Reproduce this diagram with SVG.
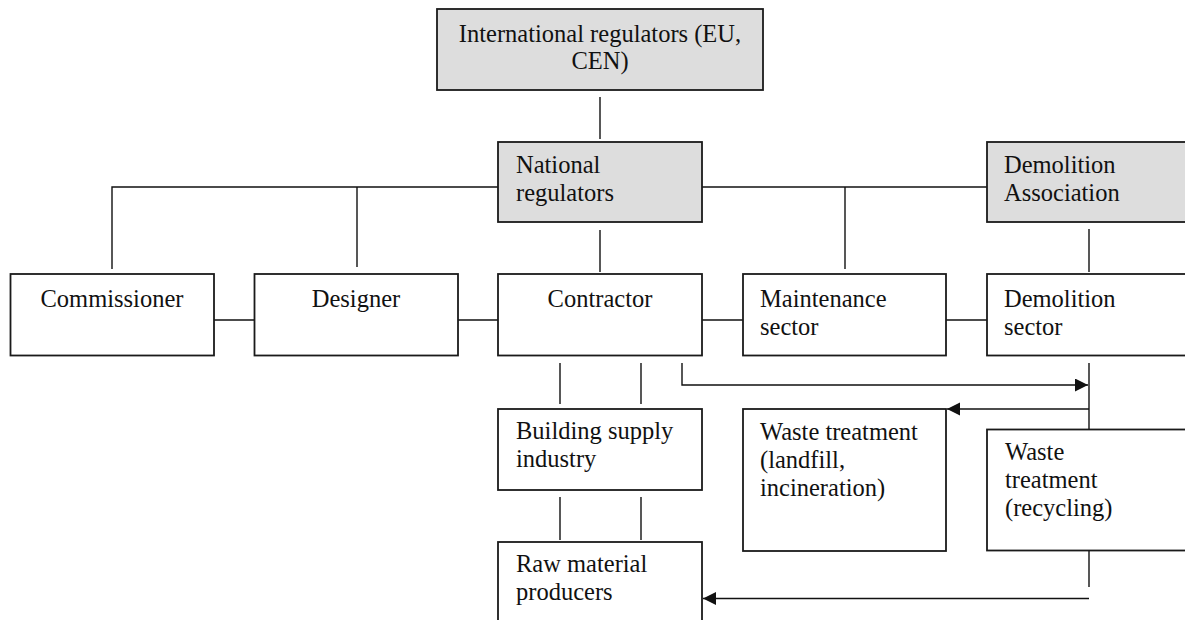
<svg xmlns="http://www.w3.org/2000/svg" width="1185" height="620" viewBox="0 0 1185 620">
<defs>
<style>
.box{fill:#ffffff;stroke:#1a1a1a;stroke-width:1.8}
.grey{fill:#dddddd;stroke:#1a1a1a;stroke-width:1.8}
.ln{fill:none;stroke:#111111;stroke-width:1.4}
text{font-family:"Liberation Serif","Times New Roman",serif;font-size:24.5px;fill:#111111}
.c{text-anchor:middle}
</style>
<marker id="arr" markerUnits="userSpaceOnUse" markerWidth="14" markerHeight="14" refX="13" refY="6.5" orient="auto">
<path d="M0,0 L13,6.5 L0,13 z" fill="#111111"/>
</marker>
</defs>
<rect width="1185" height="620" fill="#ffffff"/>
<g id="connectors">
<line class="ln" x1="600" y1="97" x2="600" y2="139"/>
<polyline class="ln" points="112,269 112,187 498,187"/>
<line class="ln" x1="357" y1="187" x2="357" y2="267"/>
<line class="ln" x1="702" y1="187" x2="987" y2="187"/>
<line class="ln" x1="845" y1="187" x2="845" y2="269"/>
<line class="ln" x1="600" y1="230" x2="600" y2="272"/>
<line class="ln" x1="1089" y1="229" x2="1089" y2="272"/>
<line class="ln" x1="214" y1="320" x2="254" y2="320"/>
<line class="ln" x1="458" y1="320" x2="498" y2="320"/>
<line class="ln" x1="702" y1="320" x2="743" y2="320"/>
<line class="ln" x1="946" y1="320" x2="987" y2="320"/>
<line class="ln" x1="560" y1="363" x2="560" y2="404"/>
<line class="ln" x1="641" y1="363" x2="641" y2="404"/>
<line class="ln" x1="560" y1="497" x2="560" y2="540"/>
<line class="ln" x1="641" y1="497" x2="641" y2="540"/>
<polyline class="ln" points="682,363 682,385 1088,385" marker-end="url(#arr)"/>
<line class="ln" x1="1089" y1="363" x2="1089" y2="429"/>
<line class="ln" x1="1089" y1="409" x2="947" y2="409" marker-end="url(#arr)"/>
<line class="ln" x1="1089" y1="551" x2="1089" y2="587"/>
<line class="ln" x1="1089" y1="598.5" x2="703" y2="598.5" marker-end="url(#arr)"/>
</g>
<g id="international">
<rect class="grey" x="437" y="9" width="326" height="81"/>
<text class="c" x="600" y="41.5">International regulators (EU,</text>
<text class="c" x="600" y="69">CEN)</text>
</g>
<g id="national">
<rect class="grey" x="498" y="142" width="204" height="80"/>
<text x="516" y="173">National</text>
<text x="516" y="201">regulators</text>
</g>
<g id="demolition-association">
<rect class="grey" x="987" y="142" width="205" height="80"/>
<text x="1004" y="173">Demolition</text>
<text x="1004" y="201">Association</text>
</g>
<g id="commissioner">
<rect class="box" x="10.5" y="274" width="203.5" height="81.5"/>
<text class="c" x="112" y="307">Commissioner</text>
</g>
<g id="designer">
<rect class="box" x="254.5" y="274" width="203.5" height="81.5"/>
<text class="c" x="356" y="307">Designer</text>
</g>
<g id="contractor">
<rect class="box" x="498" y="274" width="204" height="81.5"/>
<text class="c" x="600" y="307">Contractor</text>
</g>
<g id="maintenance">
<rect class="box" x="743" y="274" width="203" height="81.5"/>
<text x="760" y="307">Maintenance</text>
<text x="760" y="335">sector</text>
</g>
<g id="demolition-sector">
<rect class="box" x="987" y="274" width="205" height="81.5"/>
<text x="1004" y="307">Demolition</text>
<text x="1004" y="335">sector</text>
</g>
<g id="building-supply">
<rect class="box" x="498" y="409" width="204" height="81"/>
<text x="516" y="439">Building supply</text>
<text x="516" y="467">industry</text>
</g>
<g id="landfill">
<rect class="box" x="743" y="409" width="203" height="142"/>
<text x="760" y="440">Waste treatment</text>
<text x="760" y="468">(landfill,</text>
<text x="760" y="496">incineration)</text>
</g>
<g id="recycling">
<rect class="box" x="987" y="429.5" width="205" height="121"/>
<text x="1005" y="460">Waste</text>
<text x="1005" y="488">treatment</text>
<text x="1005" y="516">(recycling)</text>
</g>
<g id="raw-material">
<rect class="box" x="498" y="542" width="204" height="90"/>
<text x="516" y="572">Raw material</text>
<text x="516" y="600">producers</text>
</g>
</svg>
